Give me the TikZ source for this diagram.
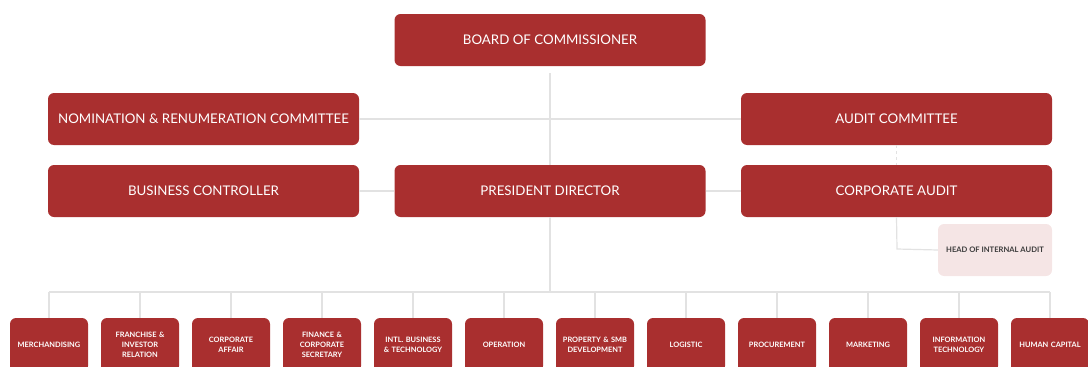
\documentclass[tikz,border=0pt]{standalone}
\usepackage{fontspec}
\setmainfont{Lato}
\definecolor{boxred}{HTML}{A92F2F}
\definecolor{linegray}{HTML}{E2E2E2}
\definecolor{pinkbox}{HTML}{F5E5E5}
\definecolor{darktext}{HTML}{3A3A3A}
\begin{document}
\begin{tikzpicture}[x=1pt,y=-1pt,
  bigbox/.style={draw=none,fill=boxred,rounded corners=6pt,minimum width=311pt,minimum height=52pt,
    text=white,font=\fontsize{13.3}{15}\selectfont,inner sep=0pt},
  smallbox/.style={draw=none,fill=boxred,rounded corners=6pt,minimum width=78pt,minimum height=54pt,
    text=white,font=\bfseries\fontsize{7.4}{10.3}\selectfont,align=center,inner sep=0pt,text width=76pt},
  headbox/.style={draw=none,fill=pinkbox,rounded corners=6pt,minimum width=114pt,minimum height=52pt,
    text=darktext,font=\bfseries\fontsize{7.6}{9}\selectfont,inner sep=0pt},
  conn/.style={draw=linegray,line width=1.2pt}]
\useasboundingbox (0,0) rectangle (1088,367);
\clip (0,0) rectangle (1088,367);
\node[bigbox] (board) at (550,40) {BOARD OF COMMISSIONER};
\node[bigbox] (nom) at (203.5,119) {NOMINATION \& RENUMERATION COMMITTEE};
\node[bigbox] (audc) at (896.5,119) {AUDIT COMMITTEE};
\node[bigbox] (bc) at (203.5,191) {BUSINESS CONTROLLER};
\node[bigbox] (pd) at (550,191) {PRESIDENT DIRECTOR};
\node[bigbox] (ca) at (896.5,191) {CORPORATE AUDIT};
\node[headbox] (hia) at (995,250) {HEAD OF INTERNAL AUDIT};
% connectors
\coordinate (btop) at (550,73);
\coordinate (bus) at (550,292);
\coordinate (hcorner) at (897,249);
\draw[conn] (btop) -- (pd.north);
\draw[conn] (nom.east) -- (audc.west);
\draw[conn] (bc.east) -- (pd.west);
\draw[conn] (pd.east) -- (ca.west);
\draw[conn,dashed] (audc.south) -- (ca.north);
\draw[conn] (ca.south) -- (hcorner) -- (hia.west);
\draw[conn] (pd.south) -- (bus);
\foreach \i/\name/\txt in {0/m1/MERCHANDISING,1/m2/{FRANCHISE \&\\INVESTOR\\RELATION},2/m3/{CORPORATE\\AFFAIR},
  3/m4/{FINANCE \&\\CORPORATE\\SECRETARY},4/m5/{INTL. BUSINESS\\\& TECHNOLOGY},5/m6/OPERATION,
  6/m7/{PROPERTY \& SMB\\DEVELOPMENT},7/m8/LOGISTIC,8/m9/PROCUREMENT,9/m10/MARKETING,
  10/m11/{INFORMATION\\TECHNOLOGY},11/m12/{HUMAN CAPITAL}}{
  \node[smallbox] (\name) at (49+91*\i,345) {\txt};
  \coordinate (\name top) at (49+91*\i,292);
  \draw[conn] (\name top) -- (\name.north);
}
\draw[conn] (m1top) -- (m12top);
\end{tikzpicture}
\end{document}
